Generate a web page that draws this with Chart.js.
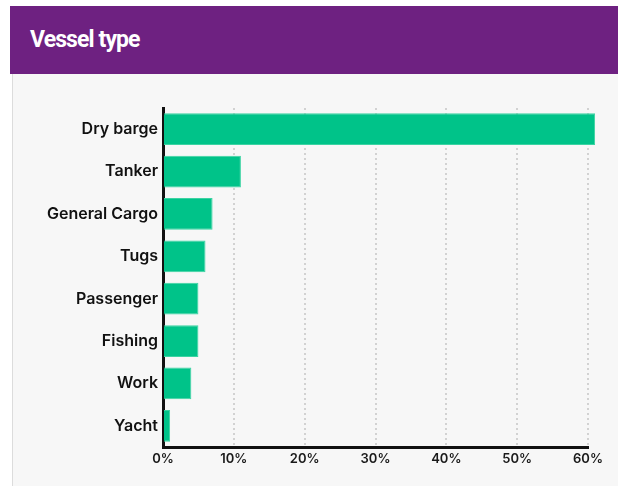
<!DOCTYPE html>
<html>
<head>
<meta charset="utf-8">
<script src="https://cdn.jsdelivr.net/npm/chart.js@4"></script>
<style>
  html, body { margin: 0; padding: 0; background: #fff; width: 618px; height: 486px; overflow: hidden; }
  .header {
    position: absolute; left: 10px; top: 6px; width: 608px; height: 68px;
    background: #6e2181;
  }
  .header h1 {
    margin: 0; position: absolute; left: 20px; top: 20px;
    font: 700 23px Roboto, "Liberation Sans", sans-serif; letter-spacing: -0.9px;
    color: #fff;
  }
  .panel {
    position: absolute; left: 12px; top: 74px; width: 606px; height: 412px;
    background: #f7f7f7; border-left: 1px solid #dcdcdc;
  }
  #vessels { position: absolute; left: 0; top: 0; }
</style>
</head>
<body>
<div class="header"><h1>Vessel type</h1></div>
<div class="panel"><canvas id="vessels" width="605" height="412"></canvas></div>
<script>
const vesselTypes = ['Dry barge', 'Tanker', 'General Cargo', 'Tugs', 'Passenger', 'Fishing', 'Work', 'Yacht'];
const sharePct = [61, 11, 7, 6, 5, 5, 4, 1];
const tickValues = [0, 10, 20, 30, 40, 50, 60];

const ctx = document.getElementById('vessels');

new Chart(ctx, {
    type: 'bar',
    data: {
        labels: vesselTypes,
        datasets: [{
            data: sharePct,
            backgroundColor: '#00c389',
            borderColor: '#3bd3a2',
            borderWidth: 1,
            barPercentage: 0.75,
            categoryPercentage: 1,
            clip: false
        }]
    },
    options: {
        indexAxis: 'y',
        responsive: false,
        animation: false,
        layout: { padding: { top: 34, right: 30, left: 0, bottom: 0 } },
        plugins: {
            legend: { display: false },
            tooltip: { enabled: false }
        },
        scales: {
            x: {
                min: 0,
                max: 60,
                afterBuildTicks: scale => {
                    scale.ticks = tickValues.map(v => ({ value: v }));
                },
                afterFit: scale => { scale.height = 39; },
                grid: { color: '#d2d2d2', lineWidth: 2, drawTicks: false },
                border: { display: true, color: '#111', width: 3, dash: [2, 3] },
                ticks: {
                    padding: 4,
                    color: '#1a1a1a',
                    font: { family: 'Inter', size: 13, weight: '600' },
                    callback: v => v + '%'
                }
            },
            y: {
                afterFit: scale => { scale.width = 150; },
                grid: { display: false, drawTicks: false },
                border: { display: true, color: '#111', width: 3 },
                ticks: {
                    padding: 5,
                    color: '#111',
                    font: { family: 'Inter', size: 16, weight: '600' }
                }
            }
        }
    }
});
</script>
</body>
</html>
